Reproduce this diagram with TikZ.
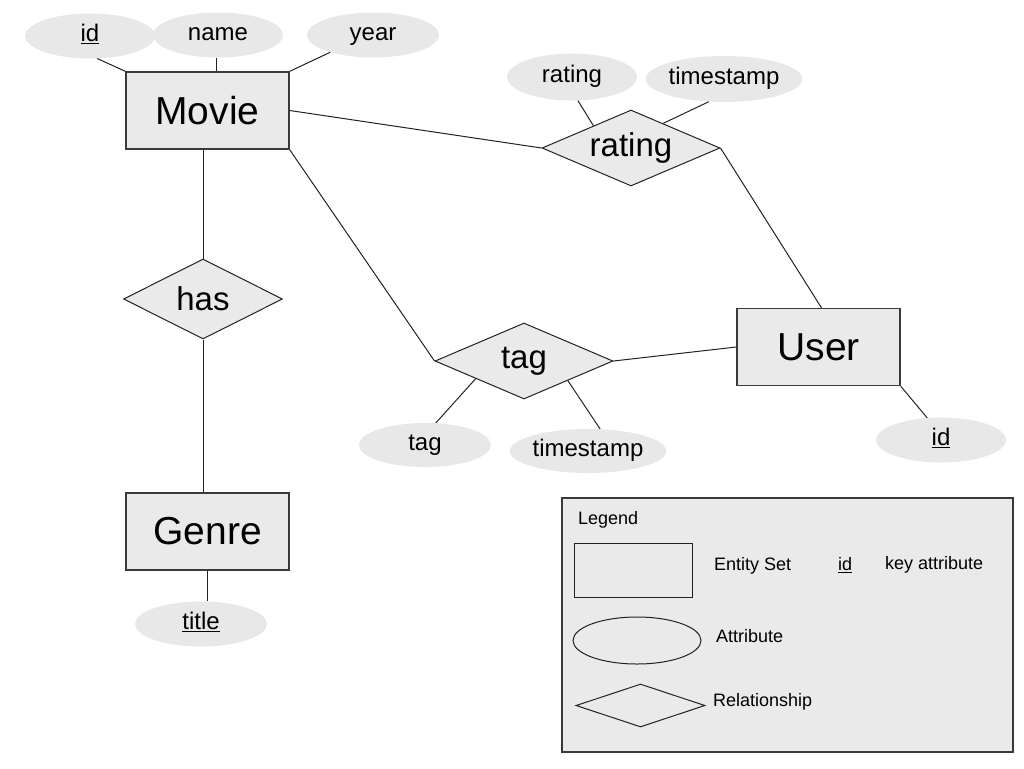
\documentclass[tikz,border=0pt]{standalone}
\usepackage{fontspec}
\setmainfont{Liberation Sans}
\usetikzlibrary{shapes.geometric,calc}
\definecolor{shapefill}{HTML}{EAEAEA}
\definecolor{attrfill}{HTML}{E8E8E8}
\definecolor{edgecol}{HTML}{222222}
\definecolor{bordercol}{HTML}{3A3A3A}
\tikzset{
  every node/.style={inner sep=0pt},
  entity/.style={rectangle, draw=bordercol, line width=1.3pt, fill=shapefill,
    minimum width=163pt, minimum height=77pt, font=\fontsize{39}{44}\selectfont},
  relation/.style={diamond, draw=edgecol, line width=1pt, fill=shapefill, shape aspect=2.3,
    minimum width=178pt, minimum height=76pt, font=\fontsize{33}{38}\selectfont},
  attr/.style={ellipse, fill=attrfill, minimum width=130pt, minimum height=45pt,
    text height=17pt, text depth=6pt, font=\fontsize{24}{28}\selectfont},
  conn/.style={draw=edgecol, line width=1pt},
  legendbox/.style={rectangle, draw=bordercol, line width=1.3pt, fill=shapefill},
  legendtext/.style={anchor=west, text height=13pt, text depth=4pt, font=\fontsize{18}{22}\selectfont},
  legendshape/.style={draw=edgecol, line width=1pt},
}
\begin{document}
\begin{tikzpicture}[x=1pt, y=-1pt]
\useasboundingbox (0,0) rectangle (1024,768);

% entities
\node[entity] (movie) at (207.5,110.5) {Movie};
\node[entity] (user) at (818.5,347) {User};
\node[entity] (genre) at (207.5,531.5) {Genre};

% relationships
\node[relation] (rating) at (631,148) {rating};
\node[relation] (tag) at (524,361) {tag};
\node[relation, minimum width=159pt, minimum height=80pt] (has) at (203,299) {has};

% attributes
\node[attr] (mid) at (90,36) {\underline{id}};
\node[attr] (mname) at (218,35) {name};
\node[attr, minimum width=132pt] (myear) at (373,35) {year};
\node[attr, minimum height=47pt] (rrating) at (572,77) {rating};
\node[attr, minimum width=132pt, minimum height=46pt] (rts) at (724,79) {timestamp};
\node[attr] (uid) at (941,440) {\underline{id}};
\node[attr, minimum width=132pt, minimum height=44pt] (ttag) at (425,445) {tag};
\node[attr, minimum width=124pt, minimum height=44pt] (tts) at (588,451) {timestamp};
\node[attr, minimum width=132pt] (gtitle) at (201,624) {\underline{title}};

% connectors
\draw[conn] (mid.-72) -- (movie.north west);
\draw[conn] (mname.-95) -- (mname.-95 |- movie.north);
\draw[conn] (myear.-158) -- (movie.north east);
\draw[conn] (movie.east) -- (rating.west);
\draw[conn] (rrating.-76) -- ($(rating.west)!0.58!(rating.north)$);
\draw[conn] (rts.-124) -- ($(rating.north)!0.36!(rating.east)$);
\draw[conn] (rating.east) -- ([xshift=3pt]user.north);
\draw[conn] (movie.south east) -- (tag.west);
\draw[conn] (tag.east) -- (user.west);
\draw[conn] ($(tag.west)!0.46!(tag.south)$) -- (ttag.64);
\draw[conn] ($(tag.south)!0.49!(tag.east)$) -- (tts.61);
\draw[conn] (user.south east) -- (uid.122);
\draw[conn] (has.north |- movie.south) -- (has.north);
\draw[conn] (has.south) -- (has.south |- genre.north);
\draw[conn] (genre.south) -- (genre.south |- gtitle.north);

% legend
\node[legendbox, minimum width=451pt, minimum height=254pt] (legend) at (787.5,625) {};
\node[legendtext] (lgtitle) at (578,520) {Legend};
\node[legendshape, rectangle, minimum width=118pt, minimum height=54pt] (lgrect) at (633,570) {};
\node[legendtext] (lgentity) at (714,566) {Entity Set};
\node[legendtext] (lgid) at (838,566) {\underline{id}};
\node[legendtext] (lgkey) at (885,565) {key attribute};
\node[legendshape, ellipse, minimum width=128pt, minimum height=47pt] (lgell) at (637,640.5) {};
\node[legendtext] (lgattr) at (716,638) {Attribute};
\node[legendshape, diamond, shape aspect=3, minimum width=129pt, minimum height=43pt] (lgdia) at (640.5,705.5) {};
\node[legendtext] (lgrel) at (713,702) {Relationship};
\end{tikzpicture}
\end{document}
